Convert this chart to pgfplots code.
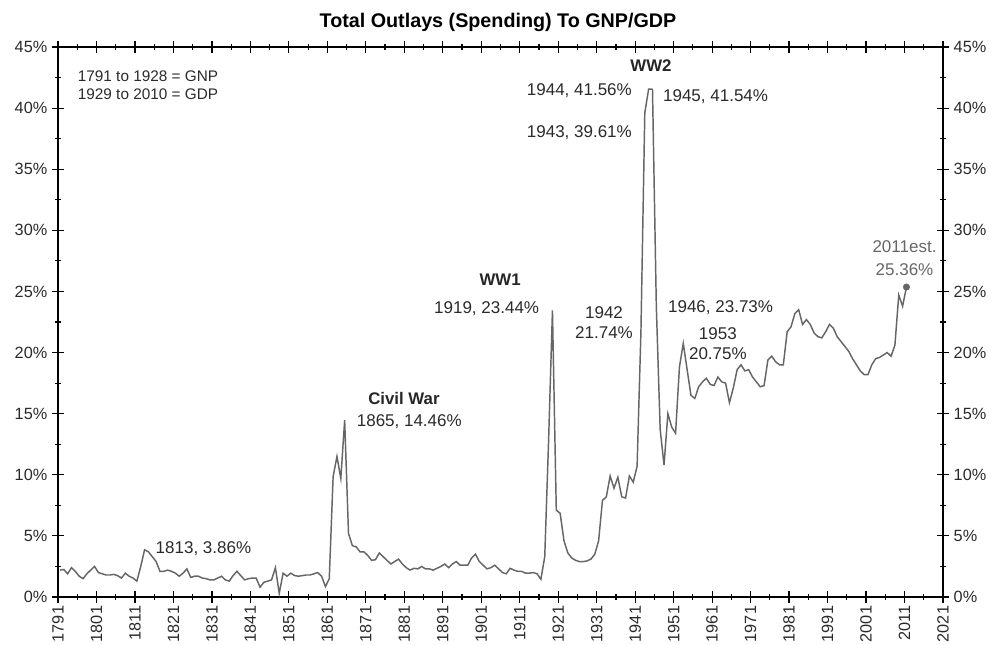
\documentclass[border=0pt]{standalone}
\usepackage{fontspec}
\setmainfont{Liberation Sans}
\usepackage{pgfplots}
\usepackage{pgfplotstable}
\pgfplotsset{compat=1.18}
\definecolor{linegray}{HTML}{666666}
\definecolor{txtgray}{HTML}{2A2A2A}
\definecolor{estgray}{HTML}{666666}

\pgfplotstableread{
year val
1791 2.2
1792 2.25
1793 1.9
1794 2.4
1795 2.1
1796 1.7
1797 1.5
1798 1.9
1799 2.2
1800 2.5
1801 2.0
1802 1.9
1803 1.8
1804 1.8
1805 1.85
1806 1.75
1807 1.55
1808 1.95
1809 1.7
1810 1.55
1811 1.3
1812 2.5
1813 3.86
1814 3.7
1815 3.3
1816 2.9
1817 2.1
1818 2.1
1819 2.2
1820 2.1
1821 1.95
1822 1.7
1823 1.95
1824 2.3
1825 1.6
1826 1.7
1827 1.7
1828 1.55
1829 1.5
1830 1.4
1831 1.4
1832 1.55
1833 1.7
1834 1.4
1835 1.3
1836 1.75
1837 2.1
1838 1.75
1839 1.4
1840 1.5
1841 1.55
1842 1.55
1843 0.8
1844 1.2
1845 1.3
1846 1.4
1847 2.4
1848 0.3
1849 1.95
1850 1.7
1851 1.95
1852 1.75
1853 1.7
1854 1.75
1855 1.8
1856 1.8
1857 1.9
1858 2.0
1859 1.7
1860 0.85
1861 1.5
1862 9.85
1863 11.5
1864 9.7
1865 14.46
1866 5.2
1867 4.2
1868 4.1
1869 3.7
1870 3.7
1871 3.4
1872 3.0
1873 3.05
1874 3.6
1875 3.3
1876 3.0
1877 2.7
1878 2.9
1879 3.1
1880 2.7
1881 2.4
1882 2.2
1883 2.35
1884 2.3
1885 2.5
1886 2.3
1887 2.3
1888 2.2
1889 2.35
1890 2.5
1891 2.7
1892 2.4
1893 2.7
1894 2.9
1895 2.6
1896 2.6
1897 2.6
1898 3.2
1899 3.5
1900 2.9
1901 2.6
1902 2.3
1903 2.4
1904 2.6
1905 2.3
1906 2.0
1907 1.9
1908 2.35
1909 2.2
1910 2.1
1911 2.1
1912 1.95
1913 1.95
1914 2.0
1915 1.9
1916 1.45
1917 3.3
1918 12.8
1919 23.44
1920 7.1
1921 6.85
1922 4.6
1923 3.6
1924 3.2
1925 3.0
1926 2.9
1927 2.9
1928 2.95
1929 3.1
1930 3.5
1931 4.6
1932 7.9
1933 8.2
1934 9.9
1935 8.9
1936 9.8
1937 8.2
1938 8.1
1939 9.9
1940 9.4
1941 10.7
1942 21.74
1943 39.61
1944 41.56
1945 41.54
1946 23.73
1947 13.7
1948 10.8
1949 15.0
1950 13.9
1951 13.4
1952 18.8
1953 20.75
1954 18.6
1955 16.5
1956 16.25
1957 17.2
1958 17.6
1959 17.9
1960 17.4
1961 17.3
1962 18.0
1963 17.6
1964 17.5
1965 15.9
1966 17.1
1967 18.6
1968 19.0
1969 18.5
1970 18.6
1971 18.0
1972 17.6
1973 17.2
1974 17.3
1975 19.4
1976 19.7
1977 19.25
1978 19.0
1979 19.0
1980 21.7
1981 22.1
1982 23.2
1983 23.5
1984 22.3
1985 22.7
1986 22.3
1987 21.6
1988 21.3
1989 21.2
1990 21.7
1991 22.3
1992 22.0
1993 21.3
1994 20.9
1995 20.5
1996 20.1
1997 19.5
1998 19.0
1999 18.5
2000 18.2
2001 18.2
2002 19.0
2003 19.5
2004 19.6
2005 19.8
2006 20.0
2007 19.7
2008 20.6
2009 24.7
2010 23.8
2011 25.36
}\outlays

\pgfplotsset{
  common/.style={
    scale only axis, width=663.75pt, height=412.5pt,
    xmin=1790.5, xmax=2020.5, ymin=0, ymax=45,
    ytick={0,5,...,45}, minor y tick num=1,
    yticklabel={\pgfmathprintnumber{\tick}\%},
    /pgf/number format/assume math mode=true,
    tick align=center, major tick length=9pt, minor tick length=4.5pt,
    tick style={black, line width=0.9pt},
    axis line style={black, line width=1.1pt},
    yticklabel style={font=\fontsize{12.2}{14}\selectfont, text=txtgray},
  }
}

\begin{document}
\begin{tikzpicture}
\begin{axis}[common,
  xtick={1790.5,1800.5,1810.5,1820.5,1830.5,1840.5,1850.5,1860.5,1870.5,1880.5,1890.5,1900.5,1910.5,1920.5,1930.5,1940.5,1950.5,1960.5,1970.5,1980.5,1990.5,2000.5,2010.5,2020.5},
  xticklabels={1791,1801,1811,1821,1831,1841,1851,1861,1871,1881,1891,1901,1911,1921,1931,1941,1951,1961,1971,1981,1991,2001,2011,2021},
  minor x tick num=1,
  xticklabel style={rotate=90, anchor=east, font=\fontsize{12.2}{14}\selectfont, text=txtgray, inner sep=2pt},
  yticklabel pos=left,
  clip=false,
]
\addplot[linegray, line width=1.1pt, sharp plot] table[x=year, y=val] {\outlays};
\addplot[only marks, mark=*, mark size=2.4pt, color=linegray] coordinates {(2011,25.36)};

\node[font=\bfseries\fontsize{14.8}{17}\selectfont] at (axis cs:1904.85,47.05) {Total Outlays (Spending) To GNP/GDP};
\node[anchor=west, font=\fontsize{11.5}{13}\selectfont, text=txtgray, inner sep=0pt] at (axis cs:1795.6,42.6) {1791 to 1928 = GNP};
\node[anchor=west, font=\fontsize{11.5}{13}\selectfont, text=txtgray, inner sep=0pt] at (axis cs:1795.6,41.1) {1929 to 2010 = GDP};

\tikzset{ann/.style={font=\fontsize{12.75}{15}\selectfont, text=txtgray, inner sep=0pt}, bann/.style={font=\bfseries\fontsize{12.6}{15}\selectfont, text=black!85, inner sep=0pt}}
\node[ann] at (axis cs:1828.3,3.93) {1813, 3.86\%};
\node[bann] at (axis cs:1880.4,16.28) {Civil War};
\node[ann] at (axis cs:1881.8,14.35) {1865, 14.46\%};
\node[bann] at (axis cs:1905.4,25.94) {WW1};
\node[ann] at (axis cs:1901.9,23.57) {1919, 23.44\%};
\node[ann] at (axis cs:1932.4,23.27) {1942};
\node[ann] at (axis cs:1932.4,21.63) {21.74\%};
\node[bann] at (axis cs:1944.6,43.5) {WW2};
\node[ann] at (axis cs:1926.0,41.4) {1944, 41.56\%};
\node[ann] at (axis cs:1961.4,40.9) {1945, 41.54\%};
\node[ann] at (axis cs:1926.0,37.97) {1943, 39.61\%};
\node[ann] at (axis cs:1962.7,23.65) {1946, 23.73\%};
\node[ann] at (axis cs:1962.0,21.58) {1953};
\node[ann] at (axis cs:1962.0,19.94) {20.75\%};
\node[ann, text=estgray] at (axis cs:2010.5,28.64) {2011est.};
\node[ann, text=estgray] at (axis cs:2010.5,26.76) {25.36\%};
\end{axis}
\begin{axis}[common,
  axis x line=none, axis y line*=right,
  yticklabel pos=right,
]
\end{axis}
\pgfresetboundingbox
\path (-43.5pt,-35.25pt) rectangle (704.25pt,447.75pt);
\end{tikzpicture}
\end{document}
